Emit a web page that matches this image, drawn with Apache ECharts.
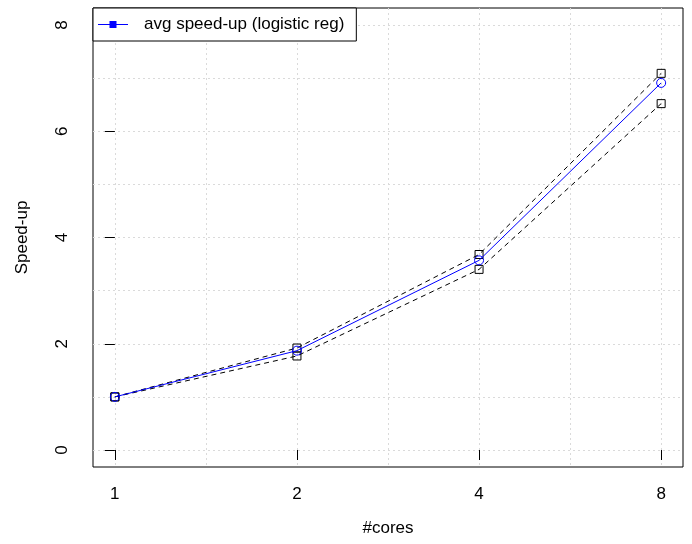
<!DOCTYPE html>
<html>
<head>
<meta charset="utf-8">
<script src="https://cdn.jsdelivr.net/npm/echarts@6/dist/echarts.min.js"></script>
<style>
  html, body { margin: 0; padding: 0; background: #fff; }
  #chart { width: 692px; height: 544px; }
</style>
</head>
<body>
<div id="chart"></div>
<script>
// Core counts (x categories) and measured speed-ups
const cores = ['1', '2', '4', '8'];
const avgSpeedup = [1.0, 1.87, 3.57, 6.91];
const upperSpeedup = [1.0, 1.92, 3.68, 7.09];
const lowerSpeedup = [1.0, 1.77, 3.40, 6.52];
const yTickLabels = [0, 2, 4, 6, 8];
const yGridValues = [0, 1, 2, 3, 4, 5, 6, 7, 8];
const xGridValues = [0, 0.5, 1, 1.5, 2, 2.5, 3];

const FONT = "'Liberation Sans', Arial, sans-serif";
const toPoints = arr => arr.map((v, i) => [i, v]);
const xIdx = cores.map((c, i) => i);
const gridLine = { show: true, lineStyle: { color: '#dadada', type: [2, 3], width: 1 } };
// open (unfilled) markers with a thin outline
const openMarker = color => ({ color: 'rgba(0,0,0,0)', borderColor: color, borderWidth: 1 });

const chart = echarts.init(document.getElementById('chart'));
chart.setOption({
  animation: false,
  backgroundColor: '#fff',
  textStyle: { fontFamily: FONT },
  grid: {
    left: 93, right: 9, top: 8, bottom: 77,
    show: true, borderColor: '#000', borderWidth: 1, backgroundColor: 'transparent'
  },
  legend: {
    left: 93, top: 8,
    orient: 'vertical',
    padding: [8, 12, 8, 5],
    backgroundColor: '#fff',
    borderColor: '#000', borderWidth: 1, borderRadius: 0,
    itemWidth: 30, itemHeight: 7,
    textStyle: { fontSize: 17, color: '#000', fontFamily: FONT, padding: [0, 0, 0, 11] },
    data: [{
      name: 'avg speed-up (logistic reg)',
      icon: 'path://M0,3H30V4H0Z M11.5,0H18.5V7H11.5Z',
      itemStyle: { color: '#0000ff', borderWidth: 0 }
    }]
  },
  xAxis: [{
    type: 'value', min: -0.12, max: 3.12,
    name: '#cores', nameLocation: 'middle', nameGap: 53,
    nameTextStyle: { fontSize: 17, color: '#000', fontFamily: FONT },
    axisLine: { show: false },
    axisTick: { show: true, length: 10, inside: false, customValues: xIdx, lineStyle: { color: '#000' } },
    axisLabel: {
      customValues: xIdx, margin: 19, fontSize: 17, color: '#000', fontFamily: FONT,
      formatter: v => cores[Math.round(v)]
    },
    splitLine: { show: false }
  }, {
    type: 'value', min: -0.12, max: 3.12,
    axisLine: { show: false },
    axisTick: { show: false, customValues: xGridValues },
    axisLabel: { show: false },
    splitLine: gridLine
  }],
  yAxis: [{
    type: 'value', min: -0.32, max: 8.32,
    name: 'Speed-up', nameLocation: 'middle', nameGap: 62,
    nameTextStyle: { fontSize: 17, color: '#000', fontFamily: FONT },
    axisLine: { show: false },
    axisTick: { show: true, length: 10, inside: false, customValues: yTickLabels, lineStyle: { color: '#000' } },
    axisLabel: {
      customValues: yTickLabels, rotate: 90, margin: 22, fontSize: 17, color: '#000', fontFamily: FONT
    },
    splitLine: { show: false }
  }, {
    type: 'value', min: -0.32, max: 8.32,
    axisLine: { show: false },
    axisTick: { show: false, customValues: yGridValues },
    axisLabel: { show: false },
    splitLine: gridLine
  }],
  series: [{
    name: 'upper',
    type: 'line',
    data: toPoints(upperSpeedup),
    symbol: 'rect', symbolSize: 8,
    itemStyle: openMarker('#000'),
    lineStyle: { color: '#000', width: 1, type: [5, 4] },
    z: 2
  }, {
    name: 'lower',
    type: 'line',
    data: toPoints(lowerSpeedup),
    symbol: 'rect', symbolSize: 8,
    itemStyle: openMarker('#000'),
    lineStyle: { color: '#000', width: 1, type: [5, 4] },
    z: 2
  }, {
    name: 'avg speed-up (logistic reg)',
    type: 'line',
    data: toPoints(avgSpeedup),
    symbol: 'circle', symbolSize: 9,
    itemStyle: openMarker('#0000ff'),
    lineStyle: { color: '#0000ff', width: 1 },
    z: 3
  }]
});
</script>
</body>
</html>
